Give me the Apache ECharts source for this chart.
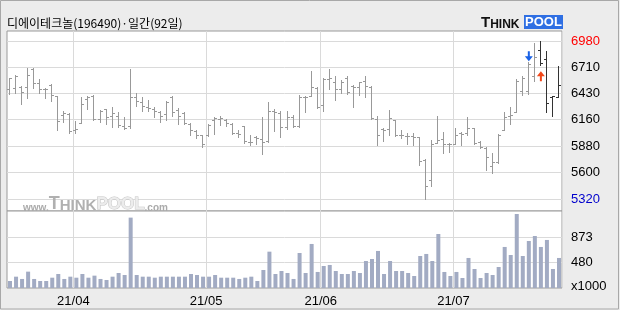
<!DOCTYPE html>
<html><head><meta charset="utf-8">
<script src="https://cdn.jsdelivr.net/npm/echarts@6/dist/echarts.min.js"></script>
<style>html,body{margin:0;padding:0;background:#ececec;}#c{width:620px;height:310px;}</style>
</head><body><div id="c"></div>
<script>
const chartTitle = '디에이테크놀(196490)·일간(92일)';
const dates = [
'2021-03-17','2021-03-18','2021-03-19','2021-03-22','2021-03-23','2021-03-24','2021-03-25','2021-03-26','2021-03-29','2021-03-30','2021-03-31',
'2021-04-01','2021-04-02','2021-04-05','2021-04-06','2021-04-07','2021-04-08','2021-04-09','2021-04-12','2021-04-13','2021-04-14','2021-04-15','2021-04-16','2021-04-19','2021-04-20','2021-04-21','2021-04-22','2021-04-23','2021-04-26','2021-04-27','2021-04-28','2021-04-29','2021-04-30',
'2021-05-03','2021-05-04','2021-05-06','2021-05-07','2021-05-10','2021-05-11','2021-05-12','2021-05-13','2021-05-14','2021-05-17','2021-05-18','2021-05-20','2021-05-21','2021-05-24','2021-05-25','2021-05-26','2021-05-27','2021-05-28','2021-05-31',
'2021-06-01','2021-06-02','2021-06-03','2021-06-04','2021-06-07','2021-06-08','2021-06-09','2021-06-10','2021-06-11','2021-06-14','2021-06-15','2021-06-16','2021-06-17','2021-06-18','2021-06-21','2021-06-22','2021-06-23','2021-06-24','2021-06-25','2021-06-28','2021-06-29','2021-06-30',
'2021-07-01','2021-07-02','2021-07-05','2021-07-06','2021-07-07','2021-07-08','2021-07-09','2021-07-12','2021-07-13','2021-07-14','2021-07-15','2021-07-16','2021-07-19','2021-07-20','2021-07-21','2021-07-22','2021-07-23','2021-07-26'
];
const opens = [
6480,6490,6500,6500,6690,6540,6480,6520,6410,6210,
6220,6050,6120,6370,6410,6160,6270,6190,6190,6090,
6090,6390,6340,6290,6270,6240,6220,6400,6260,6230,
6110,6040,5990,6000,6150,6160,6150,6110,6020,6090,
5920,5970,5950,5930,6250,6230,6080,6180,6090,6390,
6410,6490,6310,6580,6550,6480,6590,6510,6500,6560,
6500,6160,6060,6060,6150,6000,5980,5980,5970,5730,
5520,5910,5950,5900,5900,6020,6020,6070,5920,5860,
5670,5710,6050,6200,6240,6460,6460,6620,6890,6790,
6400,6400];
const highs = [
6600,6630,6510,6700,6700,6580,6490,6530,6410,6250,
6230,6140,6390,6410,6420,6260,6270,6290,6240,6180,
6690,6440,6390,6360,6290,6250,6350,6410,6280,6240,
6120,6050,6000,6110,6180,6190,6160,6120,6050,6090,
5990,5980,6180,6340,6270,6250,6250,6210,6420,6410,
6670,6500,6590,6690,6620,6570,6620,6520,6550,6620,
6510,6190,6070,6260,6150,6050,6020,6020,5970,5740,
5940,6190,6030,5910,6070,6030,6180,6070,5930,5870,
5810,6010,6240,6290,6580,6620,6760,6960,6980,6880,
6410,6720];
const lows = [
6430,6440,6320,6380,6490,6440,6380,6350,6050,6130,
6020,6020,6120,6270,6150,6130,6110,6080,6080,6060,
6070,6300,6250,6250,6180,6130,6150,6200,6110,6110,
5990,5960,5870,5980,6010,6100,6090,6010,5970,5910,
5890,5900,5800,5920,6040,5970,6060,6080,6080,6240,
6410,6280,6250,6480,6360,6440,6430,6290,6420,6400,
6160,5890,5930,6000,5980,5960,5900,5890,5680,5320,
5460,5910,5810,5820,5900,5890,5990,5900,5860,5630,
5600,5700,6050,6110,6240,6420,6430,6560,6730,6240,
6190,6400];
const closes = [
6600,6620,6450,6630,6540,6480,6480,6420,6140,6230,
6040,6060,6320,6390,6160,6250,6180,6230,6100,6070,
6390,6350,6300,6280,6250,6190,6340,6240,6200,6120,
6050,6000,5900,6100,6170,6170,6120,6020,6010,5930,
5920,5960,5920,6250,6240,6080,6180,6090,6390,6400,
6500,6290,6580,6590,6480,6550,6450,6500,6550,6510,
6170,6000,6050,6170,6000,6000,5980,5970,5720,5460,
5900,5940,5900,5900,6000,6010,6070,5910,5870,5760,
5710,6000,6180,6210,6560,6600,6740,6820,6750,6330,
6410,6520];
const volumes = [
186,254,218,333,218,186,186,238,296,218,
254,238,296,238,270,218,202,254,312,280,
1182,280,254,254,238,254,254,254,254,254,
296,280,254,254,280,238,238,238,218,238,
254,186,359,647,296,343,312,218,626,312,
768,328,422,438,343,296,296,343,312,500,
532,658,296,500,343,343,312,265,579,611,
500,925,328,265,328,233,548,375,233,312,
280,406,721,595,1239,579,815,893,721,831,
375,548];
const priceTicks = [5320,5600,5880,6160,6430,6710,6980];
const volumeTicks = [480,873];
const volumeUnit = 'x1000';
const sellSignal = [[86, 6760]];  // blue arrow above bar high
const buySignal = [[88, 6730]];   // red arrow below bar low

const darkFrom = 88;
const gridLineColor = '#dadada';
const labelFont = '"Liberation Sans Narrow","Liberation Sans",sans-serif';

const isMonthStart = (i) => i > 0 && dates[i].slice(5,7) !== dates[i-1].slice(5,7);

const ohlcData = dates.map((d, i) => [i, opens[i], highs[i], lows[i], closes[i]]);

function renderOHLC(params, api) {
  const i = api.value(0);
  const pO = api.coord([i, api.value(1)]);
  const pH = api.coord([i, api.value(2)]);
  const pL = api.coord([i, api.value(3)]);
  const pC = api.coord([i, api.value(4)]);
  const xi = Math.round(pO[0]) - 1;
  const color = i >= darkFrom ? '#333333' : '#999999';
  const st = { stroke: color, lineWidth: 1 };
  const yo = Math.round(pO[1]) + 0.5, yc = Math.round(pC[1]) + 0.5;
  return { type: 'group', children: [
    { type: 'line', shape: { x1: xi + 0.5, y1: Math.round(pH[1]), x2: xi + 0.5, y2: Math.round(pL[1]) + 1 }, style: st },
    { type: 'line', shape: { x1: xi - 2, y1: yo, x2: xi, y2: yo }, style: st },
    { type: 'line', shape: { x1: xi + 1, y1: yc, x2: xi + 3, y2: yc }, style: st }
  ]};
}

const chart = echarts.init(document.getElementById('c'), null, { renderer: 'canvas' });
const gridCommon = { left: 7, right: 58, show: true, backgroundColor: '#ffffff', borderColor: '#9a9a9a', borderWidth: 1, outerBoundsMode: 'none', containLabel: false };

chart.setOption({
  animation: false,
  backgroundColor: '#ececec',
  grid: [
    Object.assign({ top: 31, height: 180 }, gridCommon),
    Object.assign({ top: 211, height: 77 }, gridCommon)
  ],
  xAxis: [
    { type: 'category', gridIndex: 0, data: dates, boundaryGap: true,
      axisLine: { show: false }, axisTick: { show: false }, axisLabel: { show: false },
      splitLine: { show: true, interval: (i) => isMonthStart(i), lineStyle: { color: gridLineColor, width: 1 } } },
    { type: 'category', gridIndex: 1, data: dates, boundaryGap: true,
      axisLine: { show: false }, axisTick: { show: false },
      axisLabel: { show: true, interval: (i) => isMonthStart(i), margin: 7, color: '#000', fontSize: 13, fontFamily: labelFont,
        padding: [0, 6, 0, 0],
        formatter: (v) => v.slice(2,4) + '/' + v.slice(5,7) },
      splitLine: { show: true, interval: (i) => isMonthStart(i), lineStyle: { color: gridLineColor, width: 1 } } }
  ],
  yAxis: [
    { type: 'value', gridIndex: 0, position: 'right', min: 5195, max: 7090, scale: true,
      axisLine: { show: false },
      axisTick: { show: false, customValues: priceTicks },
      axisLabel: { show: true, customValues: priceTicks, margin: 9, fontSize: 13, fontFamily: labelFont,
        color: (v) => Number(v) === Math.max(...priceTicks) ? '#ff0000' : (Number(v) === Math.min(...priceTicks) ? '#0000cc' : '#000000'),
        formatter: (v) => String(v) },
      splitLine: { show: true, lineStyle: { color: gridLineColor, width: 1 } } },
    { type: 'value', gridIndex: 1, position: 'right', min: 76, max: 1286, scale: true,
      axisLine: { show: false },
      axisTick: { show: false, customValues: volumeTicks },
      axisLabel: { show: true, customValues: volumeTicks, margin: 9, fontSize: 13, fontFamily: labelFont, color: '#000', formatter: (v) => String(v) },
      splitLine: { show: true, lineStyle: { color: gridLineColor, width: 1 } } }
  ],
  series: [
    { type: 'custom', xAxisIndex: 0, yAxisIndex: 0, data: ohlcData, renderItem: renderOHLC,
      encode: { x: 0, y: [1, 2, 3, 4] }, clip: true, z: 3 },
    { type: 'bar', xAxisIndex: 1, yAxisIndex: 1, data: volumes, barWidth: 4,
      itemStyle: { color: '#a2abc3' }, z: 3 },
    { type: 'scatter', xAxisIndex: 0, yAxisIndex: 0, data: sellSignal, z: 4,
      symbol: 'path://M3,0 L5,0 L5,5 L8,5 L4,10 L0,5 L3,5 Z', symbolSize: [8, 10], symbolOffset: [0, -6],
      itemStyle: { color: '#1a62e6', opacity: 1 } },
    { type: 'scatter', xAxisIndex: 0, yAxisIndex: 0, data: buySignal, z: 4,
      symbol: 'path://M4,0 L8,5 L5,5 L5,10 L3,10 L3,5 L0,5 Z', symbolSize: [8, 10], symbolOffset: [0, 11],
      itemStyle: { color: '#f2481a', opacity: 1 } }
  ],
  graphic: [
    { type: 'rect', z: 10, silent: true, shape: { x: 0.5, y: 0.5, width: 618, height: 308.5 }, style: { fill: null, stroke: '#a8a8a8', lineWidth: 1 } },
    { type: 'text', z: 10, x: 7, y: 23, style: { text: chartTitle, font: '12px "Noto Sans CJK KR"', fill: '#000', verticalAlign: 'middle' } },
    { type: 'text', z: 10, x: 481, y: 23, style: { text: '{a|T}{b|HINK}', verticalAlign: 'middle',
      rich: { a: { font: 'bold 15px "Liberation Sans"', fill: '#111', verticalAlign: 'bottom' }, b: { font: 'bold 12px "Liberation Sans"', fill: '#111', verticalAlign: 'bottom' } } } },
    { type: 'rect', z: 10, shape: { x: 524, y: 15, width: 39, height: 14 }, style: { fill: '#2f6fe3' } },
    { type: 'text', z: 11, x: 543.5, y: 22.5, style: { text: 'POOL', font: 'bold 13px "Liberation Sans"', fill: '#fff', align: 'center', verticalAlign: 'middle' } },
    { type: 'text', z: 1, x: 23, y: 204, style: { text: '{a|www.}{t|T}{b|HINK}{c|POOL}{a|.com}', verticalAlign: 'middle',
      rich: {
        a: { font: 'bold 10px "Liberation Sans"', fill: '#aaaaaa', verticalAlign: 'bottom' },
        t: { font: 'bold 18px "Liberation Sans"', fill: '#b0b0b0', verticalAlign: 'bottom' },
        b: { font: 'bold 15px "Liberation Sans"', fill: '#b0b0b0', verticalAlign: 'bottom' },
        c: { font: 'bold 17px "Liberation Sans"', fill: '#ececec', stroke: '#c4c4c4', lineWidth: 1, verticalAlign: 'bottom' }
      } } },
    { type: 'text', z: 10, x: 571, y: 286, style: { text: volumeUnit, font: '13px ' + labelFont, fill: '#000', verticalAlign: 'middle' } }
  ]
});
</script>
</body></html>
